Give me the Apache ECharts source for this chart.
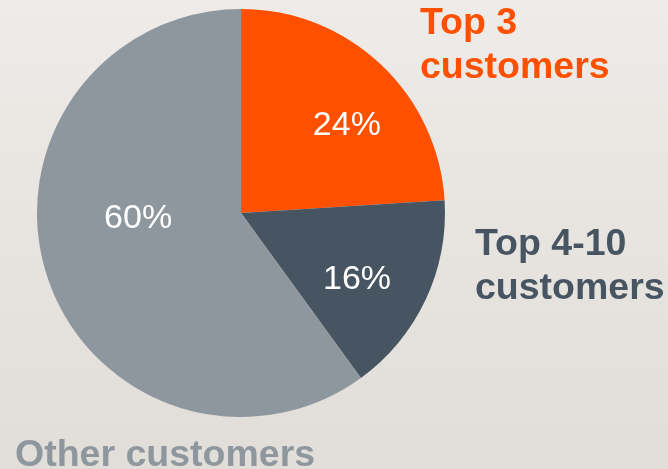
<!DOCTYPE html>
<html><head><meta charset="utf-8">
<script src="https://cdn.jsdelivr.net/npm/echarts@6/dist/echarts.min.js"></script>
<style>html,body{margin:0;padding:0;}#c{width:668px;height:469px;}</style>
</head><body><div id="c"></div>
<script>
const categories = ['Top 3 customers', 'Top 4-10 customers', 'Other customers'];
const shareValues = [24, 16, 60];
const sliceColors = ['#FF5000', '#465561', '#8F979E'];
const outerLabelLines = [['Top 3', 'customers'], ['Top 4-10', 'customers'], ['Other customers']];

const insideOffsets = [[34, -11], [21, 22], [-3, -27]];
const outerPos = [[420, 2], [475, 223], [15, 434]];

const chart = echarts.init(document.getElementById('c'));
chart.setOption({
  animation: false,
  backgroundColor: {
    type: 'linear', x: 0, y: 0, x2: 0, y2: 1,
    colorStops: [{offset: 0, color: '#eeebe8'}, {offset: 1, color: '#e1ddd8'}]
  },
  series: [{
    type: 'pie',
    center: [241, 213],
    radius: 204,
    startAngle: 90,
    clockwise: true,
    silent: true,
    label: {
      show: true, position: 'inside', color: '#ffffff',
      fontFamily: 'Liberation Sans', fontSize: 34,
      formatter: p => p.value + '%'
    },
    labelLine: {show: false},
    data: categories.map((n, i) => ({
      name: n, value: shareValues[i],
      itemStyle: {color: sliceColors[i]},
      label: {offset: insideOffsets[i]}
    }))
  }],
  graphic: outerLabelLines.map((lines, i) => ({
    type: 'text', x: outerPos[i][0], y: outerPos[i][1],
    style: {
      text: lines.join('\n'), fill: sliceColors[i],
      font: 'bold 37.5px "Liberation Sans"', lineHeight: 44,
      textAlign: 'left', textVerticalAlign: 'top'
    }
  }))
});
</script></body></html>
